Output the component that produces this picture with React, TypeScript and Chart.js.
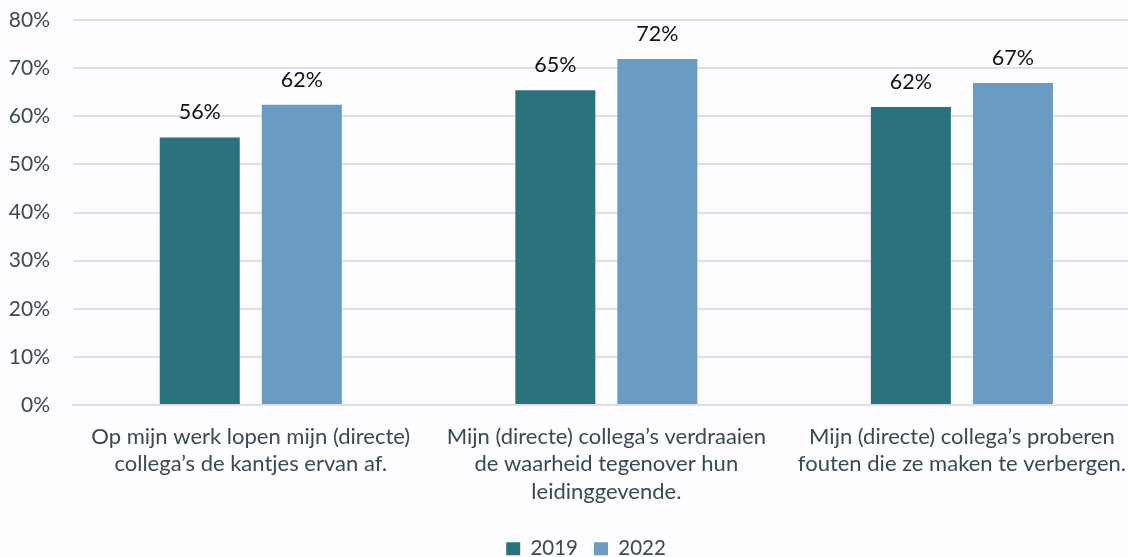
import React, { useEffect, useRef } from "react";
import { Chart, registerables } from "chart.js";

Chart.register(...registerables);

const categories: string[][] = [
  ["Op mijn werk lopen mijn (directe)", "collega’s de kantjes ervan af."],
  ["Mijn (directe) collega’s verdraaien", "de waarheid tegenover hun", "leidinggevende."],
  ["Mijn (directe) collega’s proberen", "fouten die ze maken te verbergen."],
];
const series2019: number[] = [55.6, 65.4, 61.9];
const series2022: number[] = [62.4, 71.9, 66.9];
const yTicks: number[] = [0, 10, 20, 30, 40, 50, 60, 70, 80];

const FONT = "Lato, 'Open Sans', sans-serif";
const TEXT = "#3A4A55";
const GRID = "#D9E2E9";

// Writes each bar's rounded percentage just above it.
const valueLabels = {
  id: "valueLabels",
  afterDatasetsDraw(chart: any) {
    const ctx = chart.ctx;
    ctx.save();
    ctx.font = `21.5px ${FONT}`;
    ctx.fillStyle = "#111111";
    ctx.textAlign = "center";
    ctx.textBaseline = "alphabetic";
    chart.data.datasets.forEach((ds: any, i: number) => {
      const meta = chart.getDatasetMeta(i);
      meta.data.forEach((bar: any, j: number) => {
        const v = ds.data[j] as number;
        ctx.fillText(`${Math.round(v)}%`, bar.x, bar.y - 18);
      });
    });
    ctx.restore();
  },
};

export default function App() {
  const ref = useRef<HTMLCanvasElement>(null);

  useEffect(() => {
    if (!ref.current) return;
    const chart = new Chart(ref.current, {
      type: "bar",
      data: {
        labels: categories,
        datasets: [
          {
            label: "2019",
            data: series2019,
            backgroundColor: "#2C727E",
            categoryPercentage: 0.574,
            barPercentage: 0.784,
          },
          {
            label: "2022",
            data: series2022,
            backgroundColor: "#6B9BC3",
            categoryPercentage: 0.574,
            barPercentage: 0.784,
          },
        ],
      },
      options: {
        animation: false,
        responsive: false,
        maintainAspectRatio: false,
        layout: { padding: { top: 20, left: 28, right: 0, bottom: -12 } },
        scales: {
          x: {
            grid: { display: false, drawTicks: false },
            border: { display: true, color: GRID, width: 2 },
            afterFit: (axis: any) => {
              axis.height -= 1;
            },
            ticks: {
              color: TEXT,
              font: { family: FONT, size: 22, lineHeight: 1.25 },
              maxRotation: 0,
              autoSkip: false,
              padding: 18,
            },
          },
          y: {
            min: 0,
            max: 80,
            afterBuildTicks: (axis: any) => {
              axis.ticks = yTicks.map((v) => ({ value: v }));
            },
            afterFit: (axis: any) => {
              axis.width = 45;
              axis.paddingTop = 0;
              axis.paddingBottom = 0;
              // let the tick labels extend past the narrowed axis box
              axis._computeLabelArea = () => undefined;
            },
            grid: { color: GRID, lineWidth: 2, drawTicks: false },
            border: { display: false },
            ticks: {
              color: TEXT,
              font: { family: FONT, size: 21 },
              padding: 23,
              callback: (v: any) => `${v}%`,
            },
          },
        },
        plugins: {
          legend: {
            position: "bottom",
            labels: {
              color: TEXT,
              font: { family: FONT, size: 20.5 },
              boxWidth: 14,
              boxHeight: 13,
              padding: 16,
            },
          },
          tooltip: { enabled: false },
        },
      },
      plugins: [valueLabels],
    });
    return () => chart.destroy();
  }, []);

  return (
    <div
      style={{
        position: "absolute",
        left: 0,
        top: 0,
        width: 1128,
        height: 557,
        overflow: "hidden",
        background: "#FDFCFF",
      }}
    >
      <canvas ref={ref} width={1144} height={557} />
    </div>
  );
}
